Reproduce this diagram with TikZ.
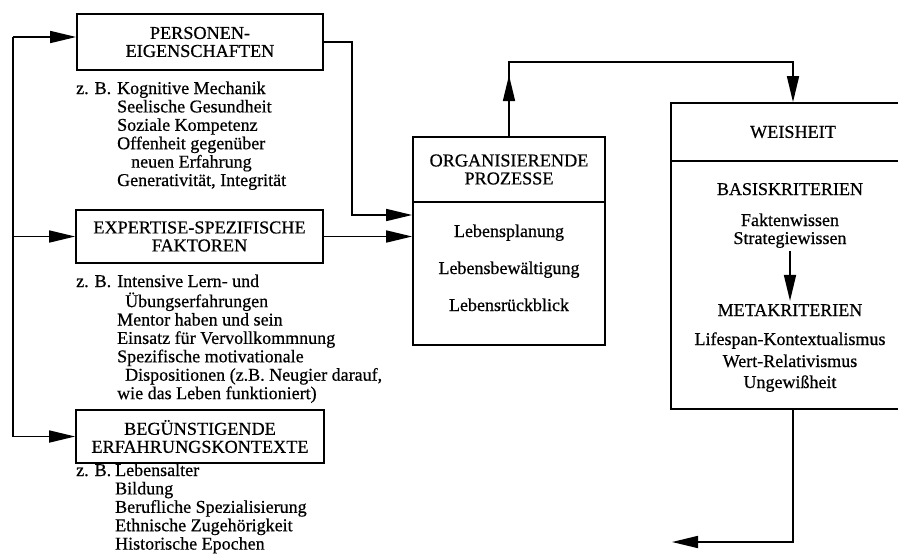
\documentclass[tikz,border=0pt]{standalone}
\usepackage{fontspec}
\setmainfont{Liberation Serif}[UprightFeatures={FakeBold=0.6}]
\usetikzlibrary{arrows.meta}

\newcommand{\headfont}{\fontsize{18.2}{18}\selectfont}
\newcommand{\listfont}{\fontsize{18}{18.4}\selectfont}

\tikzset{
  box/.style={draw,line width=1.7pt,inner sep=0pt,align=center,font=\headfont},
  list/.style={anchor=base west,inner sep=0pt,font=\listfont},
  item/.style={anchor=base,inner sep=0pt,font=\listfont},
  line/.style={line width=1.7pt},
  arr/.style={line width=1.7pt,-{Triangle[length=26pt,width=12pt]}}
}

\begin{document}
\begin{tikzpicture}[x=1pt,y=-1pt]
\useasboundingbox (0,0) rectangle (898,555);
\clip (0,0) rectangle (898,555);

% left column
\node[box,minimum width=246pt,minimum height=56pt] (pers) at (200,42) {PERSONEN-\\EIGENSCHAFTEN};
\node[list] (perslist) at (76,94) {\begin{tabular}[t]{@{}l@{\hspace{6pt}}l@{}}
z. B. & Kognitive Mechanik\\
 & Seelische Gesundheit\\
 & Soziale Kompetenz\\
 & Offenheit gegenüber\\
 & \hspace*{14pt}neuen Erfahrung\\
 & Generativität, Integrität
\end{tabular}};

\node[box,minimum width=247pt,minimum height=53pt] (expert) at (199.5,236.5) {EXPERTISE-SPEZIFISCHE\\FAKTOREN};
\node[list] (expertlist) at (76,287) {\begin{tabular}[t]{@{}l@{\hspace{6pt}}l@{}}
z. B. & Intensive Lern- und\\
 & \hspace*{8pt}Übungserfahrungen\\
 & Mentor haben und sein\\
 & Einsatz für Vervollkommnung\\
 & Spezifische motivationale\\
 & \hspace*{8pt}Dispositionen (z.B. Neugier darauf,\\
 & wie das Leben funktioniert)
\end{tabular}};

\node[box,minimum width=248pt,minimum height=53pt] (beg) at (200,436.5) {BEGÜNSTIGENDE\\ERFAHRUNGSKONTEXTE};
\node[list] (beglist) at (76,476) {\begin{tabular}[t]{@{}l@{\hspace{4pt}}l@{}}
z. B. & Lebensalter\\
 & Bildung\\
 & Berufliche Spezialisierung\\
 & Ethnische Zugehörigkeit\\
 & Historische Epochen
\end{tabular}};

% organisierende prozesse
\node[box,minimum width=192pt,minimum height=65pt] (orghead) at (509,169.5) {ORGANISIERENDE\\PROZESSE};
\node[box,minimum width=192pt,minimum height=143pt] (orgbody) at (509,273.5) {};
\node[item] (plan) at (509,237) {Lebensplanung};
\node[item] (bew) at (509,274) {Lebensbewältigung};
\node[item] (rueck) at (509,311) {Lebensrückblick};

% weisheit
\node[box,minimum width=244pt,minimum height=58pt] (weishead) at (793,132) {WEISHEIT};
\node[box,minimum width=244pt,minimum height=248pt] (weisbody) at (793,285) {};
\node[item] (basis) at (790,195) {BASISKRITERIEN};
\node[item] (fakt) at (790,226) {Faktenwissen};
\node[item,inner sep=3pt] (strat) at (790,244) {Strategiewissen};
\node[item,inner sep=3pt] (meta) at (790,316) {METAKRITERIEN};
\node[item] (life) at (790,345) {Lifespan-Kontextualismus};
\node[item] (wert) at (790,367) {Wert-Relativismus};
\node[item] (ungew) at (790,388) {Ungewißheit};

% connectors
\coordinate (bustop) at (13,37);
\coordinate (persturn) at (352,215);
\coordinate (orgup) at (509,62);
\coordinate (outend) at (672,542);

\draw[line] (bustop) -- (bustop |- beg.west);
\draw[arr] (bustop) -- (bustop -| pers.west);
\draw[arr] (bustop |- expert.west) -- (expert.west);
\draw[arr] (bustop |- beg.west) -- (beg.west);

\draw[arr] (pers.east) -| (persturn) -- (persturn -| orgbody.west);
\draw[arr] (expert.east) -- (expert.east -| orgbody.west);

\draw[arr] (orghead.north) -- (orgup) -| (weishead.north);
\draw[arr] (orghead.north) -- ++(0,-61);
\draw[arr] (strat.south) -- (meta.north);
\draw[arr] (weisbody.south) |- (outend);
\end{tikzpicture}
\end{document}
